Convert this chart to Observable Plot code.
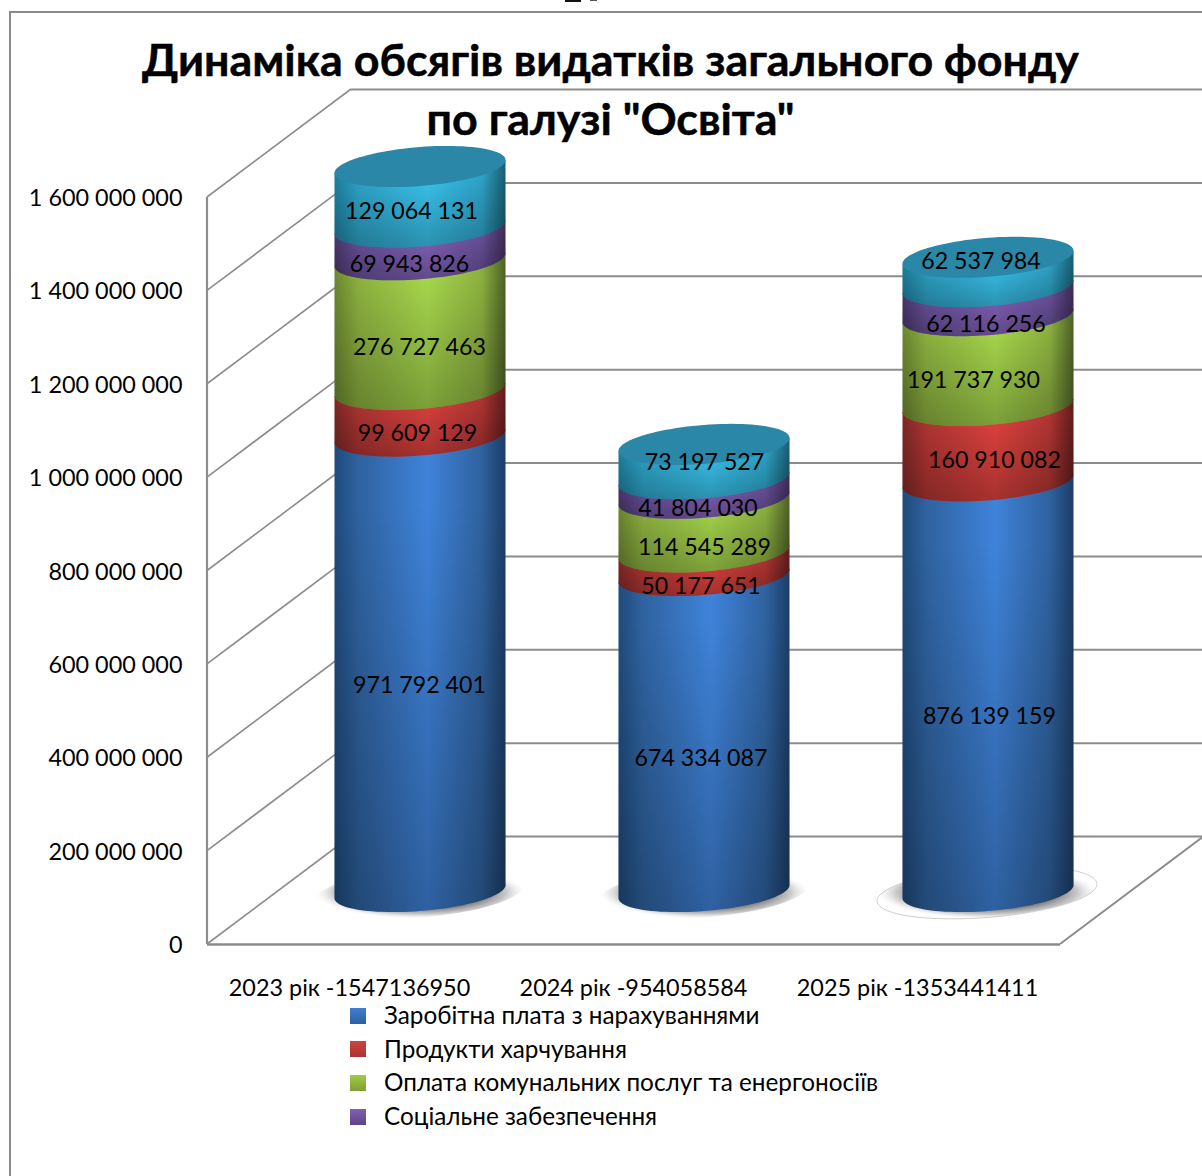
<!DOCTYPE html>
<html>
<head>
<meta charset="utf-8">
<script src="https://cdn.jsdelivr.net/npm/d3@7"></script>
<script src="https://cdn.jsdelivr.net/npm/@observablehq/plot@0.6"></script>
<style>
html,body{margin:0;padding:0;background:#fff;overflow:hidden;width:1202px;height:1176px}
#stage{position:relative;width:1202px;height:1176px;font-family:Lato,"Open Sans",sans-serif;color:#000}
#frame{position:absolute;left:9px;top:11px;width:1300px;height:1300px;border-left:2px solid #8a8a8a;border-top:2px solid #8a8a8a;box-sizing:border-box}
#chart{position:absolute;left:0;top:0}
#legend{position:absolute;left:350px;top:999px;font-size:24.3px;line-height:33.6px}
#legend div{display:flex;align-items:center;height:33.6px}
#legend i{display:inline-block;width:16px;height:16px;margin-right:18px}
#legend span{position:relative;top:-1px}
.sliver{position:absolute;top:0;height:2px;background:#111}
</style>
</head>
<body>
<div id="stage"><div id="frame"></div><div class="sliver" style="left:565px;width:16px"></div><div class="sliver" style="left:590px;width:7px;height:1px;background:#555"></div><div id="chart"></div><div id="legend"></div></div>
<script>
const categories = ["2023 рік -1547136950", "2024 рік -954058584", "2025 рік -1353441411"];
const seriesNames = ["Заробітна плата з нарахуваннями", "Продукти харчування", "Оплата комунальних послуг та енергоносіїв", "Соціальне забезпечення", "Інші видатки"];
const legendNames = seriesNames.slice(0, 4);
const values2023 = [971792401, 99609129, 276727463, 69943826, 129064131];
const values2024 = [674334087, 50177651, 114545289, 41804030, 73197527];
const values2025 = [876139159, 160910082, 191737930, 62116256, 62537984];
const yTicks = [0, 200000000, 400000000, 600000000, 800000000, 1000000000, 1200000000, 1400000000, 1600000000];
const titleLines = ["Динаміка обсягів видатків загального фонду", "по галузі \"Освіта\""];

// styles: [edge-left, mid, centre, edge-right]
const seriesShades = [
  ["#1f4a7c", "#2f629f", "#3f83da", "#1c3d66"],
  ["#7e2826", "#b03532", "#e0423e", "#5f1c1c"],
  ["#6b8630", "#8cb03f", "#a6d74c", "#4c6126"],
  ["#4b376c", "#69509a", "#8462bb", "#3d2b58"],
  ["#1e7f9e", "#2ea4c8", "#3ac4ee", "#1a5c72"]
];
const capColor = "#2b87a7";
const legendShades = [["#3f7fcf","#2f5f9f"],["#d04440","#a93330"],["#a0cc48","#7e9e38"],["#8060b0","#5f4288"]];
// nudges of the value labels, [dx, dy] per year and series
const labelNudges = [
  [[-1,20],[-3,18.5],[-1,20],[-11,18],[-9,12]],
  [[-3.5,24],[-3.5,21],[0,20.5],[-6.5,18],[0,-1]],
  [[1,29],[6,15],[-15,17.5],[-2.5,20.5],[-7.5,-13]]
];

const yearValues = [values2023, values2024, values2025];
const rows = [];
categories.forEach((c, i) => {
  let base = 0;
  yearValues[i].forEach((v, j) => {
    rows.push({category: c, series: seriesNames[j], value: v, mid: base + v / 2, yi: i, si: j});
    base += v;
  });
});

const fmt = n => d3.format(",")(n).replace(/,/g, " ");
const depthX = 144, depthY = 108;       // wall depth in px
const midX = 70, midY = 52.5;           // cylinders stand mid-depth
const persp = 1.0037;                   // slight perspective growth at mid-depth
const rx = 85.5, ry = 19.5, shear = -0.076;
const FONT = 23.4, GRID = "#8c8c8c";

function arcPts(cx, cy, rxx, ryy, from, to, n = 48) {
  const pts = [];
  for (let k = 0; k <= n; k++) {
    const t = from + (to - from) * k / n;
    pts.push([cx + rxx * Math.cos(t), cy + ryy * Math.sin(t) + shear * rxx * Math.cos(t)]);
  }
  return pts;
}
const toPath = pts => "M" + pts.map(p => p[0].toFixed(2) + "," + p[1].toFixed(2)).join("L") + "Z";
const svgEl = n => document.createElementNS("http://www.w3.org/2000/svg", n);

function defsMark() {
  const d = d3.select(svgEl("g"));
  const defs = d.append("defs");
  seriesShades.forEach((s, i) => {
    const g = defs.append("linearGradient").attr("id", "shade" + i).attr("x1", 0).attr("x2", 1).attr("y1", 0).attr("y2", 0);
    [[0, s[0]], [0.14, s[1]], [0.54, s[2]], [0.86, s[1]], [1, s[3]]].forEach(([o, c]) => g.append("stop").attr("offset", o).attr("stop-color", c));
  });
  const ov = defs.append("linearGradient").attr("id", "fade").attr("x1", 0).attr("x2", 0).attr("y1", 0).attr("y2", 1);
  ov.append("stop").attr("offset", 0.15).attr("stop-color", "#000").attr("stop-opacity", 0);
  ov.append("stop").attr("offset", 1).attr("stop-color", "#000").attr("stop-opacity", 0.26);
  const sh = defs.append("radialGradient").attr("id", "shadow");
  sh.append("stop").attr("offset", 0.55).attr("stop-color", "#3a3a3a").attr("stop-opacity", 0.85);
  sh.append("stop").attr("offset", 0.82).attr("stop-color", "#999").attr("stop-opacity", 0.55);
  sh.append("stop").attr("offset", 1).attr("stop-color", "#ddd").attr("stop-opacity", 0);
  return d.node();
}

function wallMark(index, scales, values, dim) {
  const g = d3.select(svgEl("g")).attr("fill", "none").attr("stroke", GRID);
  const x0 = dim.marginLeft, x1 = dim.width - dim.marginRight, y = scales.y;
  yTicks.forEach(t => g.append("line").attr("x1", x0).attr("y1", y(t)).attr("x2", x0 + depthX).attr("y2", y(t) - depthY).attr("stroke-width", 1.6));
  g.append("line").attr("x1", x0).attr("x2", x0).attr("y1", y(yTicks[yTicks.length - 1])).attr("y2", y(0)).attr("stroke-width", 2.2);
  g.append("line").attr("x1", x1).attr("y1", y(0)).attr("x2", x1 + depthX).attr("y2", y(0) - depthY).attr("stroke-width", 2);
  return g.node();
}

function cylinders(index, scales, values) {
  const g = d3.select(svgEl("g"));
  const bw = scales.x.bandwidth();
  const y0 = scales.y(0);
  const py = v => y0 - (y0 - v) * persp - midY;
  const list = Array.from(index);
  // floor shadows
  list.filter(i => rows[i].si === 0).forEach(i => {
    const cx = values.x[i] + bw / 2 + midX, cy = py(values.y1[i]);
    const outlined = rows[i].yi === 2;
    const p = arcPts(cx + (outlined ? -1 : 0), cy + 1, outlined ? 110 : 105, 25, 0, 2 * Math.PI, 72);
    g.append("path").attr("d", toPath(p)).attr("fill", "url(#shadow)")
      .attr("stroke", outlined ? "#cfcfcf" : "none").attr("stroke-width", 1);
  });
  // segments, bottom to top so each bottom arc overlaps the one below
  list.forEach(i => {
    const r = rows[i];
    const cx = values.x[i] + bw / 2 + midX;
    const yb = py(values.y1[i]), yt = py(values.y2[i]);
    const pts = [[cx - rx, yt - shear * rx], ...arcPts(cx, yb, rx, ry, Math.PI, 0), [cx + rx, yt + shear * rx]];
    const d = toPath(pts);
    g.append("path").attr("d", d).attr("fill", `url(#shade${r.si})`);
    g.append("path").attr("d", d).attr("fill", "url(#fade)");
  });
  // top caps
  list.filter(i => rows[i].si === seriesNames.length - 1).forEach(i => {
    const cx = values.x[i] + bw / 2 + midX, cy = py(values.y2[i]);
    g.append("path").attr("d", toPath(arcPts(cx, cy, rx, ry, 0, 2 * Math.PI, 96))).attr("fill", capColor);
  });
  return g.node();
}

const plot = Plot.plot({
  width: 1202,
  height: 1176,
  marginLeft: 207,
  marginRight: 142,
  marginTop: 197,
  marginBottom: 232,
  style: {fontFamily: 'Lato,"Open Sans",sans-serif', fontSize: FONT + "px", color: "#000", background: "transparent", overflow: "hidden"},
  x: {domain: categories, padding: 0, label: null},
  y: {domain: [0, 1600000000], label: null},
  color: {domain: seriesNames, range: seriesShades.map(s => s[2])},
  marks: [
    defsMark,
    Plot.text([titleLines.join("\n")], {frameAnchor: "top", dx: -23.5, dy: -162.5, lineAnchor: "top", lineHeight: 1.3, fontSize: 44.8, fontWeight: 700, fill: "#000", stroke: "#000", strokeWidth: 0.5}),
    wallMark,
    Plot.ruleY(yTicks, {y: d => d, dx: depthX, dy: -depthY, stroke: GRID, strokeWidth: 2}),
    Plot.ruleY([0], {stroke: GRID, strokeWidth: 2.4}),
    Plot.axisY({ticks: yTicks, tickFormat: fmt, tickSize: 0, tickPadding: 25, dy: 1, label: null, fontSize: FONT, fill: "#000"}),
    Plot.axisX({tickSize: 0, tickPadding: 35, dx: -1, label: null, fontSize: FONT, fill: "#000"}),
    Plot.barY(rows, Plot.stackY({x: "category", y: "value", fill: "series", order: null, render: cylinders})),
    ...rows.map(r => {
      const [dx, dy] = labelNudges[r.yi][r.si];
      return Plot.text([r], {x: "category", y: "mid", text: d => fmt(d.value), dx: midX + dx, dy: dy - midY, fontSize: 23.2, fill: "#000"});
    })
  ]
});
document.getElementById("chart").appendChild(plot);

const legend = d3.select("#legend");
legendNames.forEach((name, i) => {
  const row = legend.append("div");
  row.append("i").style("background", `linear-gradient(${legendShades[i][0]},${legendShades[i][1]})`);
  row.append("span").text(name);
});
</script>
</body>
</html>
